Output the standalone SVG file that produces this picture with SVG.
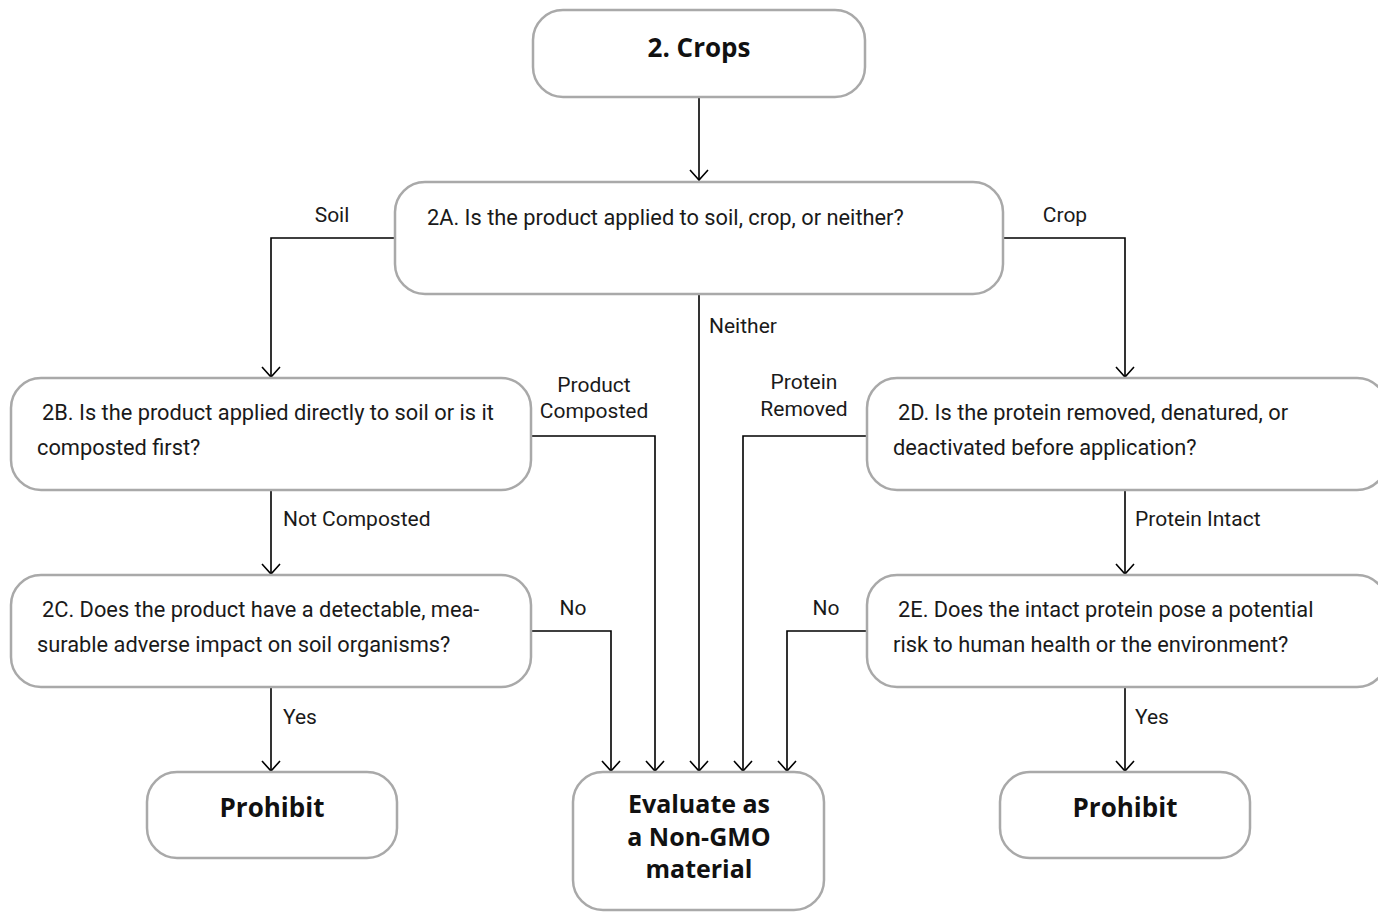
<svg xmlns="http://www.w3.org/2000/svg" width="1378" height="912" viewBox="0 0 1378 912">
<style>
.box{fill:#fff;stroke:#a9a9a9;stroke-width:2.5}
.t{font-family:Roboto,"Liberation Sans",sans-serif;font-size:21px;fill:#1a1a1a}
.q{font-size:21.8px}
.b{font-family:"Open Sans","Liberation Sans",sans-serif;font-size:26px;font-weight:bold;fill:#111;text-anchor:middle}
.e{font-size:25px}
.c{fill:none;stroke:#000;stroke-width:1.6}
.m{text-anchor:middle}
</style>
<defs>
<marker id="ah" markerWidth="22" markerHeight="14" refX="10" refY="11" orient="0" markerUnits="userSpaceOnUse">
<path d="M1,1 L10,11 L19,1" fill="none" stroke="#000" stroke-width="1.6"/>
</marker>
</defs>
<rect width="1378" height="912" fill="#fff"/>
<g id="connectors">
<path class="c" d="M699,97 V180" marker-end="url(#ah)"/>
<path class="c" d="M395,238 H271 V377" marker-end="url(#ah)"/>
<path class="c" d="M1003,238 H1125 V377" marker-end="url(#ah)"/>
<path class="c" d="M699,294 V771" marker-end="url(#ah)"/>
<path class="c" d="M531,436 H655 V771" marker-end="url(#ah)"/>
<path class="c" d="M867,436 H743 V771" marker-end="url(#ah)"/>
<path class="c" d="M271,490 V574" marker-end="url(#ah)"/>
<path class="c" d="M1125,490 V574" marker-end="url(#ah)"/>
<path class="c" d="M531,631 H611 V771" marker-end="url(#ah)"/>
<path class="c" d="M867,631 H787 V771" marker-end="url(#ah)"/>
<path class="c" d="M271,687 V771" marker-end="url(#ah)"/>
<path class="c" d="M1125,687 V771" marker-end="url(#ah)"/>
</g>
<g id="edge-labels">
<text class="t m" x="332" y="222">Soil</text>
<text class="t m" x="1065" y="222">Crop</text>
<text class="t" x="709" y="333">Neither</text>
<text class="t m" x="594" y="392">Product</text>
<text class="t m" x="594" y="418">Composted</text>
<text class="t m" x="804" y="389">Protein</text>
<text class="t m" x="804" y="416">Removed</text>
<text class="t" x="283" y="526">Not Composted</text>
<text class="t" x="1135" y="526">Protein Intact</text>
<text class="t m" x="573" y="615">No</text>
<text class="t m" x="826" y="615">No</text>
<text class="t" x="283" y="724">Yes</text>
<text class="t" x="1135" y="724">Yes</text>
</g>
<g id="n-crops">
<rect class="box" x="533" y="10" width="332" height="87" rx="30"/>
<text class="b" x="699" y="57">2. Crops</text>
</g>
<g id="n-2a">
<rect class="box" x="395" y="182" width="608" height="112" rx="30"/>
<text class="t q" x="427" y="225">2A. Is the product applied to soil, crop, or neither?</text>
</g>
<g id="n-2b">
<rect class="box" x="11" y="378" width="520" height="112" rx="30"/>
<text class="t q" x="42" y="420">2B. Is the product applied directly to soil or is it</text>
<text class="t q" x="37" y="455">composted first?</text>
</g>
<g id="n-2d">
<rect class="box" x="867" y="378" width="520" height="112" rx="30"/>
<text class="t q" x="898" y="420">2D. Is the protein removed, denatured, or</text>
<text class="t q" x="893" y="455">deactivated before application?</text>
</g>
<g id="n-2c">
<rect class="box" x="11" y="575" width="520" height="112" rx="30"/>
<text class="t q" x="42" y="617">2C. Does the product have a detectable, mea-</text>
<text class="t q" x="37" y="652">surable adverse impact on soil organisms?</text>
</g>
<g id="n-2e">
<rect class="box" x="867" y="575" width="520" height="112" rx="30"/>
<text class="t q" x="898" y="617">2E. Does the intact protein pose a potential</text>
<text class="t q" x="893" y="652">risk to human health or the environment?</text>
</g>
<g id="n-prohibit-left">
<rect class="box" x="147" y="772" width="250" height="86" rx="30"/>
<text class="b" x="272" y="817">Prohibit</text>
</g>
<g id="n-evaluate">
<rect class="box" x="573" y="772" width="251" height="138" rx="30"/>
<text class="b e" x="699" y="813">Evaluate as</text>
<text class="b e" x="699" y="846">a Non-GMO</text>
<text class="b e" x="699" y="878">material</text>
</g>
<g id="n-prohibit-right">
<rect class="box" x="1000" y="772" width="250" height="86" rx="30"/>
<text class="b" x="1125" y="817">Prohibit</text>
</g>
</svg>
